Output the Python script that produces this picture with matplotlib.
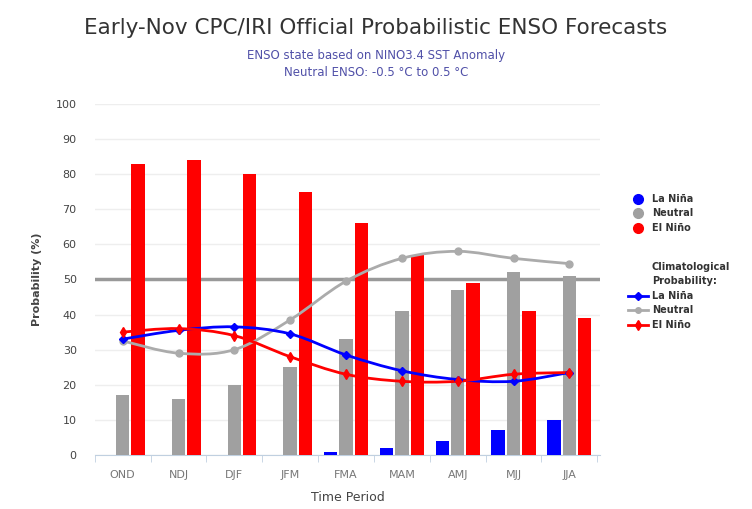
import matplotlib
matplotlib.use("Agg")
import matplotlib.pyplot as plt
from matplotlib.path import Path
from matplotlib.patches import PathPatch
from matplotlib.lines import Line2D
import numpy as np

periods = ["OND", "NDJ", "DJF", "JFM", "FMA", "MAM", "AMJ", "MJJ", "JJA"]

# forecast probabilities (bars)
la_nina = [0, 0, 0, 0, 1, 2, 4, 7, 10]
neutral = [17, 16, 20, 25, 33, 41, 47, 52, 51]
el_nino = [83, 84, 80, 75, 66, 57, 49, 41, 39]

# climatological probabilities (lines)
clim_la_nina = [33, 35.5, 36.5, 34.5, 28.5, 24, 21.5, 21, 23.5]
clim_neutral = [32.5, 29, 30, 38.5, 49.5, 56, 58, 56, 54.5]
clim_el_nino = [35, 36, 34, 28, 23, 21, 21, 23, 23.5]

legend_labels = ["La Niña", "Neutral", "El Niño"]

BLUE = "#0000FF"
GREY = "#A0A0A0"
RED = "#FF0000"
LGREY = "#ABABAB"
W, H = 752, 509


def spline_patch(xs, ys, color, smooth=1.5):
    # highcharts-like spline: bezier segments through the data points
    xs = np.asarray(xs, float)
    ys = np.asarray(ys, float)
    n = len(xs)
    verts = [(xs[0], ys[0])]
    codes = [Path.MOVETO]
    k = 4 * smooth
    for i in range(n - 1):
        p0 = (xs[i - 1], ys[i - 1]) if i > 0 else (xs[i], ys[i])
        p1 = (xs[i], ys[i])
        p2 = (xs[i + 1], ys[i + 1])
        p3 = (xs[i + 2], ys[i + 2]) if i + 2 < n else p2
        c1 = (p1[0] + (p2[0] - p0[0]) / k, p1[1] + (p2[1] - p0[1]) / k)
        c2 = (p2[0] - (p3[0] - p1[0]) / k, p2[1] - (p3[1] - p1[1]) / k)
        verts += [c1, c2, p2]
        codes += [Path.CURVE4] * 3
    return PathPatch(Path(verts, codes), facecolor="none", edgecolor=color, lw=2, zorder=5)


fig = plt.figure(figsize=(W / 100, H / 100), dpi=100)
ax = fig.add_axes([0.126, 0.106, 0.672, 0.69])

x = np.arange(len(periods))
w = 0.24
off = 0.275
ax.bar(x - off, la_nina, w, color=BLUE, zorder=3)
ax.bar(x, neutral, w, color=GREY, zorder=3)
ax.bar(x + off, el_nino, w, color=RED, zorder=3)

for vals, col in [(clim_neutral, LGREY), (clim_la_nina, BLUE), (clim_el_nino, RED)]:
    ax.add_patch(spline_patch(x, vals, col))
ax.plot(x, clim_neutral, "o", color=LGREY, ms=5, zorder=6)
ax.plot(x, clim_la_nina, "D", color=BLUE, ms=4.5, zorder=6)
ax.plot(x, clim_el_nino, "d", color=RED, ms=5.5, zorder=6)

ax.axhline(50, color="#999999", lw=2.5, zorder=2)

ax.set_xlim(-0.5, len(periods) - 0.45)
ax.set_ylim(0, 100)
ax.set_yticks(range(0, 101, 10))
ax.yaxis.grid(True, color="#EEEEEE", lw=1)
ax.set_axisbelow(True)
ax.set_xticks(x)
ax.set_xticklabels(periods, color="#777777", fontsize=8)
ax.set_xticks(np.arange(-0.5, len(periods)), minor=True)
ax.tick_params(axis="x", which="major", length=0, pad=11)
ax.tick_params(axis="x", which="minor", length=5, color="#C0D0E0")
ax.tick_params(axis="y", length=0, labelsize=8, labelcolor="#444444", pad=13)
for s in ["top", "right", "left"]:
    ax.spines[s].set_visible(False)
ax.spines["bottom"].set_color("#C0D0E0")

ax.set_xlabel("Time Period", fontsize=9, color="#444444", labelpad=8)
ax.set_ylabel("Probability (%)", fontsize=8, fontweight="bold", color="#444444", labelpad=10)

fig.text(0.5, 1 - 28 / H, "Early-Nov CPC/IRI Official Probabilistic ENSO Forecasts",
         ha="center", va="center", fontsize=15.5, color="#333333")
fig.text(0.5, 1 - 55 / H, "ENSO state based on NINO3.4 SST Anomaly",
         ha="center", va="center", fontsize=8.5, color="#5050A8")
fig.text(0.5, 1 - 73 / H, "Neutral ENSO: -0.5 \u00b0C to 0.5 \u00b0C",
         ha="center", va="center", fontsize=8.5, color="#5050A8")

# legend drawn by hand, in pixel positions of the reference
font = dict(fontsize=7, fontweight="bold", color="#333333", va="center", ha="left")
top_rows = [199, 213, 228]
for yy, col, lab in zip(top_rows, (BLUE, GREY, RED), legend_labels):
    fig.add_artist(Line2D([638 / W], [1 - yy / H], ls="none", marker="o",
                          color=col, ms=7, transform=fig.transFigure))
    fig.text(652 / W, 1 - yy / H, lab, **font)

fig.text(652 / W, 1 - 267 / H, "Climatological", **font)
fig.text(652 / W, 1 - 281 / H, "Probability:", **font)
clim_rows = [296, 310, 325]
for yy, col, mk, ms, lab in zip(clim_rows, (BLUE, LGREY, RED), ("D", "o", "d"),
                                (4, 4, 5), legend_labels):
    fy = 1 - yy / H
    fig.add_artist(Line2D([628 / W, 648 / W], [fy, fy], color=col, lw=2,
                          transform=fig.transFigure))
    fig.add_artist(Line2D([638 / W], [fy], ls="none", marker=mk, color=col,
                          ms=ms, transform=fig.transFigure))
    fig.text(652 / W, fy, lab, **font)

fig.savefig("out.png", dpi=100)
